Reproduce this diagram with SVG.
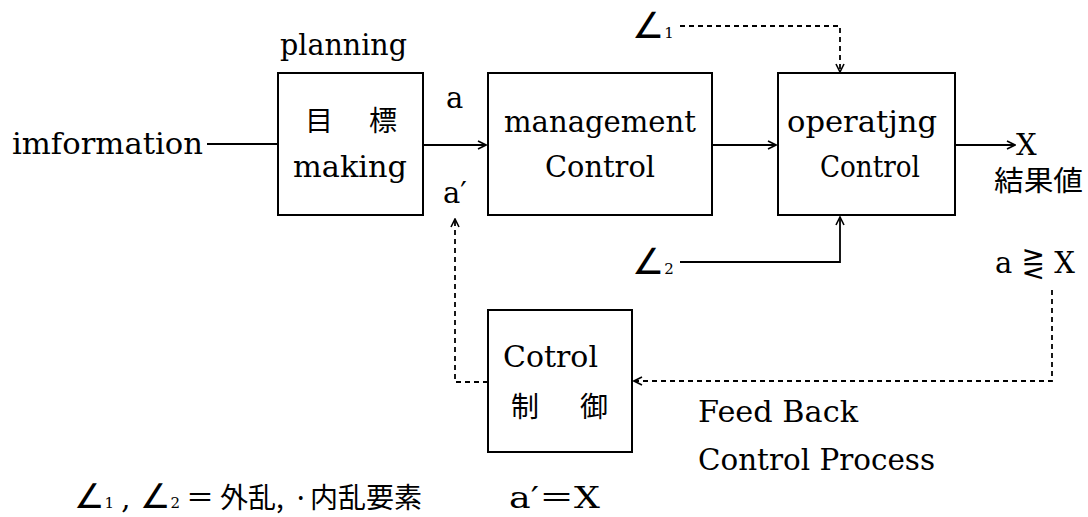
<svg xmlns="http://www.w3.org/2000/svg" width="1088" height="517" viewBox="0 0 1088 517">
<style>
.s{font-family:"DejaVu Serif","Liberation Serif",serif;font-size:29px;fill:#000}
.j{font-family:"Noto Sans CJK JP","Noto Sans CJK SC",sans-serif;font-size:28px;fill:#000}
.g{font-family:"DejaVu Sans","Noto Sans CJK JP",sans-serif;fill:#000}
.sub{font-family:"DejaVu Serif",serif;font-size:15px}
.box{fill:#fff;stroke:#000;stroke-width:2}
.ln{fill:none;stroke:#000;stroke-width:1.8}
.dl{fill:none;stroke:#000;stroke-width:1.8;stroke-dasharray:5 4}
</style>
<defs>
<marker id="ah" viewBox="0 0 10 10" refX="9" refY="5" markerWidth="10" markerHeight="10" markerUnits="userSpaceOnUse" orient="auto">
<path d="M1,1 L9,5 L1,9" fill="none" stroke="#000" stroke-width="1.6"/>
</marker>
</defs>
<rect width="1088" height="517" fill="#fff"/>

<g id="connectors">
<path class="ln" d="M207,144 H277"/>
<path class="ln" d="M423,145 H486" marker-end="url(#ah)"/>
<path class="ln" d="M712,145 H776" marker-end="url(#ah)"/>
<path class="ln" d="M955,145 H1015" marker-end="url(#ah)"/>
<path class="dl" d="M680,26 H840 V72" marker-end="url(#ah)"/>
<path class="ln" d="M680,262 H840 V217" marker-end="url(#ah)"/>
<path class="dl" d="M1052,290 V381 H634" marker-end="url(#ah)"/>
<path class="dl" d="M488,382 H455 V219" marker-end="url(#ah)"/>
</g>

<g id="n-info"><text class="s" x="12" y="154" textLength="191" lengthAdjust="spacingAndGlyphs">imformation</text></g>

<g id="n-planning">
<text class="s" x="280" y="55" textLength="127" lengthAdjust="spacingAndGlyphs">planning</text>
<rect class="box" x="278" y="73" width="145" height="142"/>
<text class="j" x="305" y="131" font-size="27" textLength="92" lengthAdjust="spacing">目 標</text>
<text class="s" x="293" y="177" textLength="114" lengthAdjust="spacingAndGlyphs">making</text>
</g>

<g id="n-a">
<text class="s" x="446" y="108">a</text>
<text class="s" x="443" y="203">a′</text>
</g>

<g id="n-management">
<rect class="box" x="488" y="73" width="224" height="142"/>
<text class="s" x="600" y="132" text-anchor="middle" textLength="192" lengthAdjust="spacingAndGlyphs">management</text>
<text class="s" x="600" y="177" text-anchor="middle" textLength="110" lengthAdjust="spacingAndGlyphs">Control</text>
</g>

<g id="n-operating">
<rect class="box" x="778" y="73" width="177" height="142"/>
<text class="s" x="862" y="132" text-anchor="middle" textLength="150" lengthAdjust="spacingAndGlyphs">operatjng</text>
<text class="s" x="870" y="177" text-anchor="middle" textLength="100" lengthAdjust="spacingAndGlyphs">Control</text>
</g>

<g id="n-x">
<text class="s" x="1016" y="155">X</text>
<text class="j" x="994" y="191" font-size="27" textLength="89" lengthAdjust="spacingAndGlyphs">結果値</text>
</g>

<g id="n-d1"><text class="g" x="632" y="38" font-size="36">∠<tspan class="sub">1</tspan></text></g>
<g id="n-d2"><text class="g" x="632" y="274" font-size="36">∠<tspan class="sub">2</tspan></text></g>

<g id="n-cmp"><text class="s" x="995" y="273">a <tspan class="g" font-size="28">⋛</tspan> X</text></g>

<g id="n-control">
<rect class="box" x="488" y="310" width="144" height="142"/>
<text class="s" x="503" y="367" textLength="95" lengthAdjust="spacingAndGlyphs">Cotrol</text>
<text class="j" x="511" y="417" font-size="26" textLength="97" lengthAdjust="spacing">制 御</text>
</g>

<g id="n-feedback">
<text class="s" x="698" y="422" textLength="160" lengthAdjust="spacingAndGlyphs">Feed Back</text>
<text class="s" x="698" y="470" textLength="237" lengthAdjust="spacingAndGlyphs">Control Process</text>
</g>

<g id="n-legend">
<text class="g" x="74" y="508" font-size="34">∠<tspan class="sub">1</tspan><tspan class="s" x="112"> ,</tspan><tspan x="140">∠</tspan><tspan class="sub">2</tspan><tspan class="j" font-size="30" x="186">＝</tspan><tspan class="j" font-size="30" x="220">外乱,</tspan><tspan class="j" font-size="30" x="293">·</tspan><tspan class="j" font-size="30" x="310">内乱要素</tspan></text>
<text class="s" x="509" y="508" textLength="91" lengthAdjust="spacingAndGlyphs">a′<tspan class="j">＝</tspan>X</text>
</g>
</svg>
